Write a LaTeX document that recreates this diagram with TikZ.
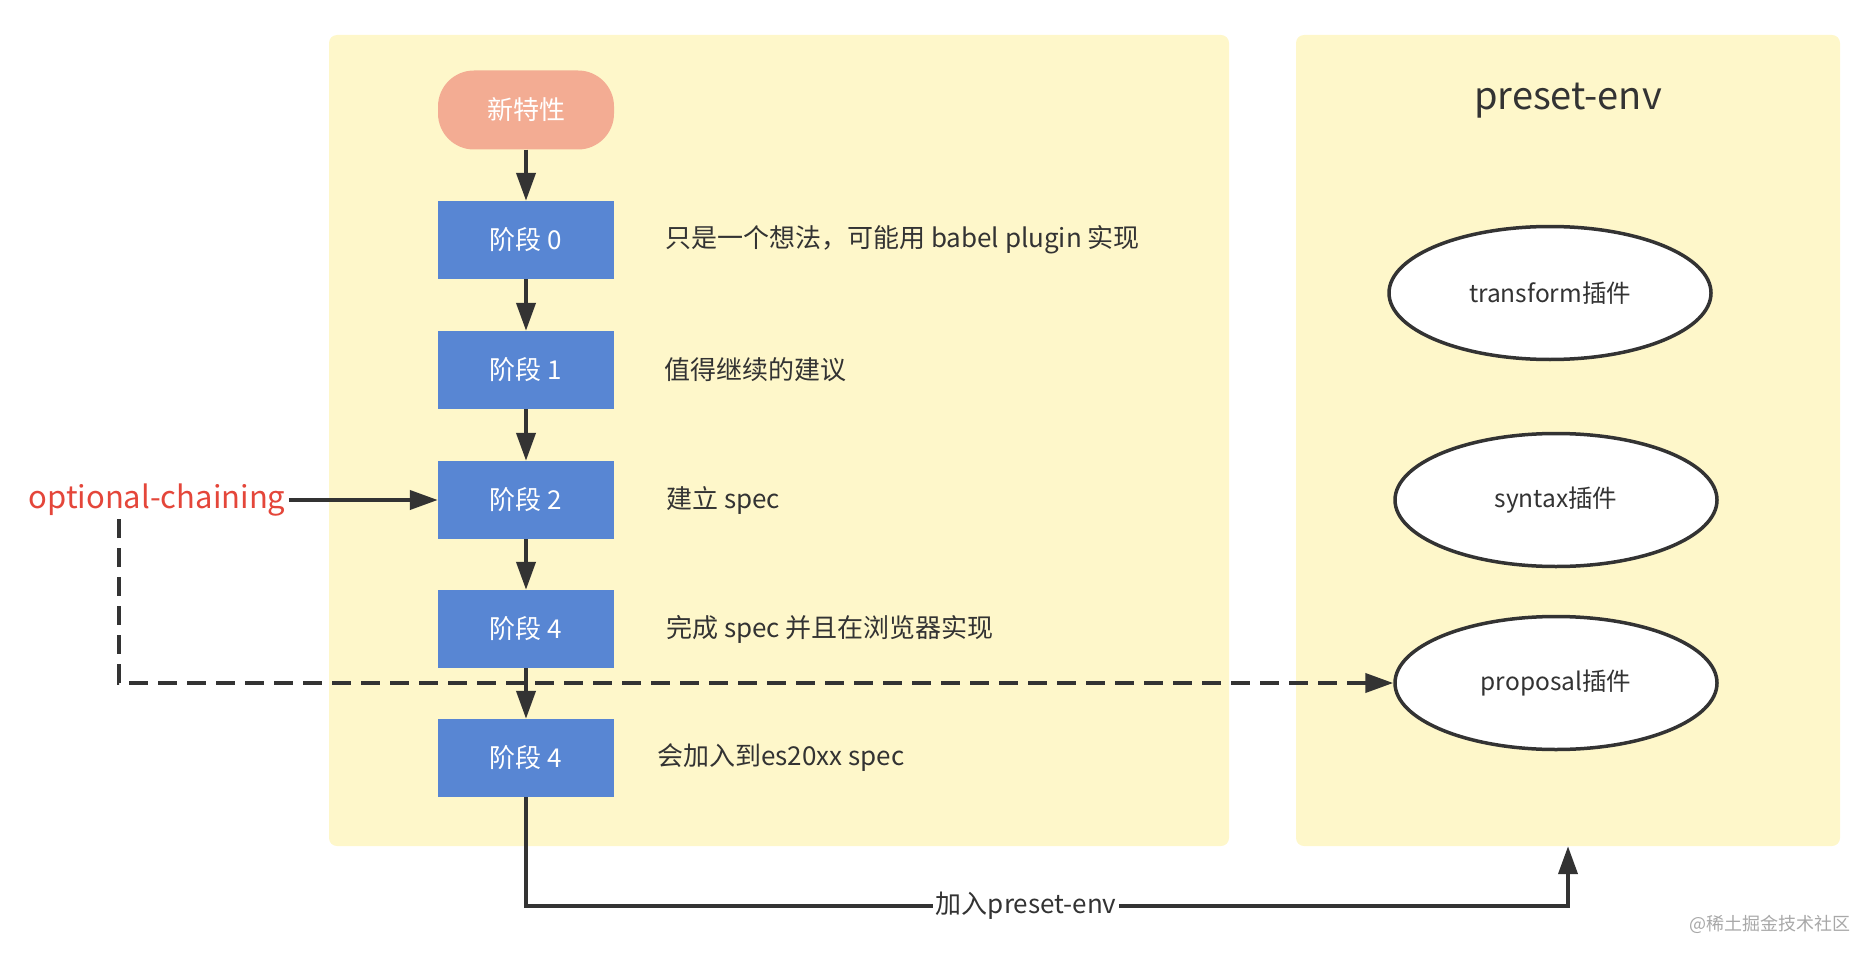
\documentclass[tikz,border=0pt]{standalone}
\usepackage{fontspec}
\setmainfont{Noto Sans CJK SC}
\usepackage{tikz}
\usetikzlibrary{arrows.meta,shapes.geometric}
\definecolor{panelYellow}{HTML}{FEF7CA}
\definecolor{boxBlue}{HTML}{5886D3}
\definecolor{pillSalmon}{HTML}{F3AC93}
\definecolor{lineDark}{HTML}{333333}
\definecolor{tagRed}{HTML}{E4463A}
\definecolor{markGray}{HTML}{A8A8A8}

\begin{document}
\begin{tikzpicture}[x=1pt,y=-1pt,
  panel/.style={fill=panelYellow,draw=none,rounded corners=8pt,inner sep=0pt},
  stagebox/.style={fill=boxBlue,text=white,minimum width=176pt,minimum height=78pt,inner sep=0pt,font=\fontsize{26}{31}\selectfont},
  note/.style={anchor=west,text=lineDark,inner sep=0pt,font=\fontsize{26}{31}\selectfont},
  plugin/.style={ellipse,draw=lineDark,line width=3.5pt,fill=white,text=lineDark,minimum width=322pt,minimum height=133pt,font=\fontsize{24.5}{29}\selectfont},
  flow/.style={draw=lineDark,line width=4pt,-{Triangle[length=28pt,width=19pt]}},
  dashflow/.style={flow,dash pattern=on 19pt off 10pt}]
\useasboundingbox (0,0) rectangle (1876,960);
% paneller
\node[panel,minimum width=900pt,minimum height=811pt] (lpanel) at (779,440.5) {};
\node[panel,minimum width=544pt,minimum height=811pt] (rpanel) at (1568,440.5) {};
% sol: asamalar
\node[fill=pillSalmon,text=white,rounded corners=36pt,minimum width=176pt,minimum height=79pt,inner sep=0pt,font=\fontsize{26}{31}\selectfont] (pill) at (526,110) {新特性};
\foreach \i/\lbl/\yy/\dx/\desc in {0/阶段 0/240/665/只是一个想法，可能用 babel plugin 实现,
    1/阶段 1/370/664/值得继续的建议,
    2/阶段 2/500/666/建立 spec,
    3/阶段 4/629/666/完成 spec 并且在浏览器实现,
    4/阶段 4/758/657/会加入到es20xx spec} {
  \node[stagebox] (s\i) at (526,\yy) {\lbl};
  \node[note] (d\i) at (\dx,\yy) {\desc};
}
\foreach \a/\b in {pill/s0,s0/s1,s1/s2,s2/s3,s3/s4}
  \draw[flow] (\a.south) -- (\b.north);
% sag: preset-env
\node[text=lineDark,font=\fontsize{38}{44}\selectfont] (ptitle) at (1568,101) {preset-env};
\node[plugin] (transform) at (1550,293) {transform插件};
\node[plugin] (syntax) at (1556,500) {syntax插件};
\node[plugin] (proposal) at (1556,683) {proposal插件};
% optional-chaining
\node[text=tagRed,font=\fontsize{31}{37}\selectfont] (tag) at (157,500) {optional-chaining};
\coordinate (dashstart) at (119,519);
\draw[flow] (tag.east) -- (s2.west);
\draw[dashflow] (dashstart) |- (proposal.west);
\draw[flow] (s4.south) -- ++(0,109) -| node[pos=0.24,fill=white,text=lineDark,inner sep=3pt,font=\fontsize{26}{31}\selectfont] (joinlbl) {加入preset-env} (rpanel.south);
\node[text=markGray,anchor=east,inner sep=0pt,font=\fontsize{18}{22}\selectfont] (wmtext) at (1851,924) {@稀土掘金技术社区};
\end{tikzpicture}
\end{document}
